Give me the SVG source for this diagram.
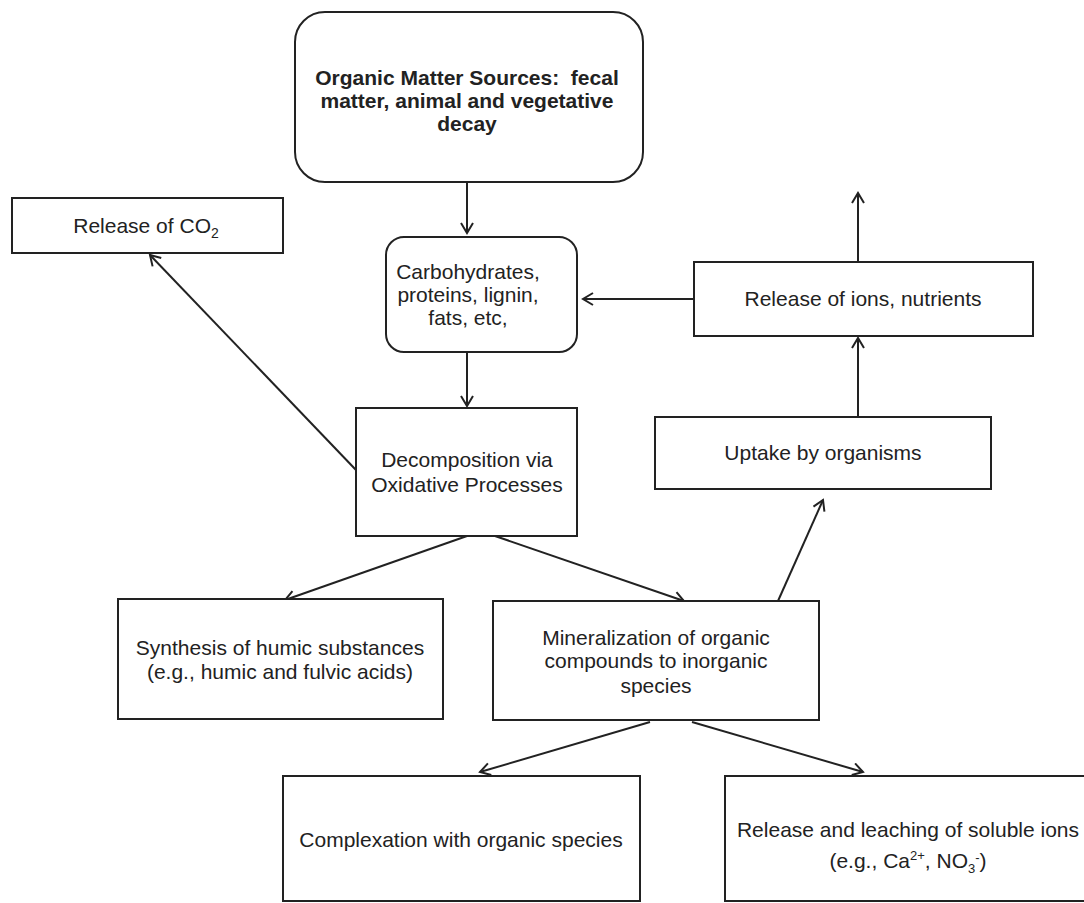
<svg xmlns="http://www.w3.org/2000/svg" width="1084" height="903" viewBox="0 0 1084 903">
<style>
.box{fill:#fff;stroke:#222;stroke-width:2}
.t{font-family:"Liberation Sans",Arial,sans-serif;font-size:21px;fill:#222;text-anchor:middle}
.b{font-weight:bold}
.c{fill:none;stroke:#222;stroke-width:2}
</style>
<defs>
<marker id="ah" markerWidth="15" markerHeight="15" refX="11" refY="7" orient="auto" markerUnits="userSpaceOnUse">
<path d="M1,1 L11,7 L1,13" fill="none" stroke="#222" stroke-width="2"/>
</marker>
</defs>
<rect width="1084" height="903" fill="#fff"/>
<g id="connectors">
<line class="c" x1="467" y1="182" x2="467" y2="233" marker-end="url(#ah)"/>
<line class="c" x1="467" y1="352" x2="467" y2="406" marker-end="url(#ah)"/>
<line class="c" x1="694" y1="299" x2="583" y2="299" marker-end="url(#ah)"/>
<line class="c" x1="858" y1="262" x2="858" y2="193" marker-end="url(#ah)"/>
<line class="c" x1="858" y1="417" x2="858" y2="338" marker-end="url(#ah)"/>
<line class="c" x1="356" y1="470" x2="150" y2="255" marker-end="url(#ah)"/>
<line class="c" x1="467" y1="536" x2="285" y2="600" marker-end="url(#ah)"/>
<line class="c" x1="495" y1="536" x2="684" y2="601" marker-end="url(#ah)"/>
<line class="c" x1="778" y1="601" x2="823" y2="500" marker-end="url(#ah)"/>
<line class="c" x1="650" y1="722" x2="480" y2="772" marker-end="url(#ah)"/>
<line class="c" x1="692" y1="722" x2="863" y2="772" marker-end="url(#ah)"/>
</g>
<g id="sources">
<rect class="box" x="295" y="12" width="348" height="170" rx="30"/>
<text class="t b" x="467" y="85">Organic Matter Sources:&#160; fecal</text>
<text class="t b" x="467" y="108">matter, animal and vegetative</text>
<text class="t b" x="467" y="131">decay</text>
</g>
<g id="co2">
<rect class="box" x="12" y="198" width="271" height="55"/>
<text class="t" x="146" y="233">Release of CO<tspan font-size="14" dy="5">2</tspan></text>
</g>
<g id="carbohydrates">
<rect class="box" x="386" y="237" width="191" height="115" rx="18"/>
<text class="t" x="468" y="279">Carbohydrates,</text>
<text class="t" x="468" y="302">proteins, lignin,</text>
<text class="t" x="468" y="325">fats, etc,</text>
</g>
<g id="release-ions">
<rect class="box" x="694" y="262" width="339" height="74"/>
<text class="t" x="863" y="306">Release of ions, nutrients</text>
</g>
<g id="decomposition">
<rect class="box" x="356" y="408" width="221" height="128"/>
<text class="t" x="467" y="467">Decomposition via</text>
<text class="t" x="467" y="492">Oxidative Processes</text>
</g>
<g id="uptake">
<rect class="box" x="655" y="417" width="336" height="72"/>
<text class="t" x="823" y="460">Uptake by organisms</text>
</g>
<g id="synthesis">
<rect class="box" x="118" y="599" width="325" height="120"/>
<text class="t" x="280" y="655">Synthesis of humic substances</text>
<text class="t" x="280" y="679">(e.g., humic and fulvic acids)</text>
</g>
<g id="mineralization">
<rect class="box" x="493" y="601" width="326" height="119"/>
<text class="t" x="656" y="645">Mineralization of organic</text>
<text class="t" x="656" y="668">compounds to inorganic</text>
<text class="t" x="656" y="693">species</text>
</g>
<g id="complexation">
<rect class="box" x="283" y="776" width="357" height="125"/>
<text class="t" x="461" y="847">Complexation with organic species</text>
</g>
<g id="leaching">
<rect class="box" x="725" y="776" width="367" height="125"/>
<text class="t" x="908" y="837">Release and leaching of soluble ions</text>
<text class="t" x="908" y="868">(e.g., Ca<tspan font-size="13" dy="-8">2+</tspan><tspan dy="8">, NO</tspan><tspan font-size="13" dy="5">3</tspan><tspan font-size="13" dy="-11">-</tspan><tspan dy="6">)</tspan></text>
</g>
</svg>
